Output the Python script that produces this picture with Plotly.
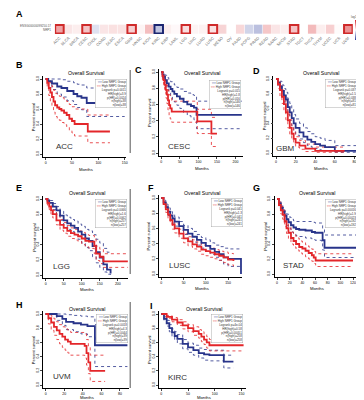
import plotly.graph_objects as go

W, H = 364, 400
BLUE = "#28348a"
RED = "#e3262a"

# ---------------- Panel A data ----------------
cancers = ["ACC","BLCA","BRCA","CESC","CHOL","COAD","DLBC","ESCA","GBM","HNSC","KICH",
           "KIRC","KIRP","LAML","LGG","LIHC","LUAD","LUSC","MESO","OV","PAAD","PCPG",
           "PRAD","READ","SARC","SKCM","STAD","TGCT","THCA","THYM","UCEC","UCS","UVM"]
log_hr = [0.42,0.12,0.08,0.28,-0.15,0.12,0.14,0.13,0.22,0.05,0.30,
          -0.30,0.08,0.03,0.16,0.05,0.06,0.14,0.20,0.0,0.18,-0.22,
          -0.32,0.26,0.12,0.08,0.28,None,0.32,0.08,0.22,0.02,0.50]
extreme_cancers = ["TGCT"]
extreme_values = [2.2]
risk_cancers = ["ACC","CESC","GBM","LGG","LUSC","STAD","UVM"]
protective_cancers = ["KIRC"]
gene_label = "ENSG00000099250.17<br>NRP1"

# ---------------- Survival data (months, survival) ----------------
ACC_low_t = [0,5,12,22,30,41,53,60,68,78,150]
ACC_low_s = [1,0.97,0.94,0.90,0.88,0.84,0.80,0.77,0.75,0.68,0.68]
ACC_low_hi = [1,1,1,1,0.99,0.97,0.95,0.93,0.92,0.88,0.88]
ACC_low_lo = [1,0.92,0.86,0.80,0.76,0.71,0.66,0.62,0.59,0.50,0.50]
ACC_high_t = [0,3,6,9,12,15,18,22,26,30,35,40,45,50,55,80,122]
ACC_high_s = [1,0.95,0.88,0.82,0.76,0.70,0.65,0.62,0.60,0.58,0.55,0.52,0.47,0.44,0.40,0.30,0.30]
ACC_high_hi = [1,1,0.98,0.94,0.90,0.85,0.81,0.79,0.77,0.75,0.73,0.70,0.66,0.63,0.60,0.52,0.52]
ACC_high_lo = [1,0.88,0.78,0.70,0.63,0.56,0.50,0.47,0.45,0.42,0.39,0.36,0.31,0.28,0.24,0.15,0.15]

CESC_low_t = [0,3,6,10,15,20,25,30,35,42,50,60,70,80,88,95,217]
CESC_low_s = [1,0.97,0.94,0.90,0.86,0.82,0.79,0.76,0.73,0.70,0.67,0.63,0.60,0.58,0.56,0.47,0.47]
CESC_low_hi = [1,1,0.99,0.96,0.93,0.90,0.88,0.86,0.84,0.81,0.79,0.76,0.74,0.72,0.71,0.64,0.64]
CESC_low_lo = [1,0.94,0.89,0.84,0.79,0.74,0.70,0.66,0.63,0.59,0.55,0.50,0.46,0.44,0.41,0.30,0.30]
CESC_high_t = [0,3,6,9,12,15,18,21,24,28,97,135,150]
CESC_high_s = [1,0.95,0.90,0.84,0.78,0.72,0.65,0.59,0.55,0.51,0.39,0.24,0.24]
CESC_high_hi = [1,1,0.97,0.92,0.88,0.83,0.77,0.72,0.68,0.64,0.54,0.44,0.44]
CESC_high_lo = [1,0.90,0.83,0.76,0.68,0.61,0.53,0.46,0.42,0.38,0.24,0.08,0.08]

GBM_low_t = [0,2,4,6,8,10,12,14,16,18,20,24,28,32,36,40,45,50,60,88]
GBM_low_s = [1,0.95,0.90,0.84,0.78,0.72,0.62,0.55,0.47,0.40,0.34,0.28,0.22,0.18,0.15,0.12,0.10,0.08,0.03,0.03]
GBM_low_hi = [1,1,0.97,0.92,0.87,0.82,0.73,0.67,0.59,0.52,0.46,0.40,0.34,0.29,0.26,0.22,0.20,0.17,0.10,0.10]
GBM_low_lo = [1,0.90,0.83,0.76,0.69,0.62,0.52,0.44,0.37,0.30,0.24,0.19,0.14,0.10,0.08,0.06,0.04,0.03,0.01,0.01]
GBM_high_t = [0,2,4,6,8,10,12,14,16,18,20,24,30,40,70]
GBM_high_s = [1,0.93,0.85,0.76,0.66,0.55,0.44,0.34,0.26,0.19,0.14,0.10,0.06,0.03,0.03]
GBM_high_hi = [1,0.99,0.93,0.85,0.76,0.66,0.55,0.45,0.36,0.28,0.22,0.17,0.12,0.08,0.08]
GBM_high_lo = [1,0.87,0.77,0.67,0.56,0.45,0.34,0.25,0.18,0.12,0.08,0.05,0.02,0.01,0.01]

LGG_low_t = [0,5,10,20,30,40,50,60,70,80,90,100,110,120,130,140,150,160,170,180]
LGG_low_s = [1,0.98,0.95,0.90,0.85,0.78,0.72,0.68,0.65,0.62,0.57,0.53,0.48,0.45,0.38,0.30,0.23,0.14,0.07,0.02]
LGG_low_hi = [1,1,0.98,0.94,0.90,0.84,0.79,0.76,0.73,0.71,0.67,0.64,0.60,0.58,0.53,0.47,0.42,0.35,0.30,0.30]
LGG_low_lo = [1,0.96,0.92,0.86,0.80,0.72,0.65,0.60,0.57,0.53,0.47,0.42,0.36,0.32,0.24,0.16,0.10,0.04,0.01,0.0]
LGG_high_t = [0,5,10,15,20,30,40,50,60,70,80,90,100,110,120,130,135,140,150,160,228]
LGG_high_s = [1,0.95,0.90,0.85,0.80,0.72,0.66,0.62,0.58,0.55,0.53,0.51,0.48,0.45,0.44,0.44,0.38,0.28,0.24,0.18,0.18]
LGG_high_hi = [1,0.98,0.94,0.90,0.85,0.78,0.73,0.69,0.65,0.62,0.60,0.58,0.56,0.53,0.52,0.52,0.47,0.38,0.34,0.28,0.28]
LGG_high_lo = [1,0.92,0.86,0.80,0.75,0.66,0.59,0.55,0.51,0.48,0.46,0.44,0.40,0.37,0.35,0.35,0.28,0.19,0.15,0.10,0.10]

LUSC_low_t = [0,5,10,15,20,25,30,40,50,60,70,80,90,100,110,120,130,140,150,178,179]
LUSC_low_s = [1,0.94,0.88,0.82,0.77,0.73,0.69,0.63,0.58,0.53,0.49,0.45,0.41,0.37,0.33,0.29,0.26,0.22,0.20,0.20,0.0]
LUSC_low_hi = [1,0.97,0.92,0.87,0.82,0.78,0.75,0.69,0.64,0.60,0.56,0.52,0.48,0.45,0.41,0.38,0.36,0.34,0.33,0.33,0.33]
LUSC_low_lo = [1,0.91,0.84,0.77,0.72,0.67,0.63,0.57,0.52,0.46,0.42,0.38,0.34,0.30,0.26,0.22,0.18,0.13,0.10,0.08,0.08]
LUSC_high_t = [0,5,10,15,20,25,30,40,50,60,70,80,90,100,110,120,130,140,150,162]
LUSC_high_s = [1,0.92,0.85,0.78,0.71,0.65,0.60,0.53,0.47,0.43,0.39,0.36,0.32,0.30,0.28,0.26,0.24,0.22,0.19,0.17]
LUSC_high_hi = [1,0.95,0.89,0.83,0.77,0.71,0.66,0.59,0.53,0.49,0.45,0.42,0.38,0.36,0.34,0.32,0.30,0.29,0.27,0.26]
LUSC_high_lo = [1,0.89,0.81,0.73,0.66,0.59,0.54,0.47,0.41,0.37,0.33,0.30,0.26,0.24,0.22,0.20,0.18,0.15,0.12,0.10]

STAD_low_t = [0,3,6,9,12,15,18,22,26,30,35,45,55,60,70,72,75,126]
STAD_low_s = [1,0.94,0.88,0.83,0.78,0.73,0.69,0.65,0.62,0.60,0.59,0.58,0.56,0.55,0.55,0.45,0.35,0.35]
STAD_low_hi = [1,0.97,0.93,0.89,0.84,0.80,0.76,0.73,0.71,0.70,0.70,0.70,0.69,0.68,0.68,0.60,0.52,0.52]
STAD_low_lo = [1,0.90,0.83,0.77,0.71,0.65,0.61,0.56,0.53,0.51,0.50,0.48,0.46,0.45,0.44,0.32,0.22,0.22]
STAD_high_t = [0,3,6,9,12,15,18,22,26,30,35,40,45,50,55,58,61,120]
STAD_high_s = [1,0.92,0.85,0.79,0.70,0.61,0.55,0.48,0.44,0.40,0.36,0.34,0.31,0.28,0.25,0.22,0.18,0.18]
STAD_high_hi = [1,0.96,0.90,0.85,0.77,0.69,0.63,0.56,0.52,0.48,0.44,0.42,0.39,0.36,0.33,0.30,0.27,0.27]
STAD_high_lo = [1,0.88,0.80,0.73,0.63,0.54,0.47,0.40,0.36,0.32,0.28,0.26,0.23,0.20,0.17,0.14,0.10,0.10]

UVM_low_t = [0,12,18,22,30,38,45,53,88]
UVM_low_s = [1,0.97,0.93,0.89,0.87,0.85,0.83,0.56,0.56]
UVM_low_hi = [1,1,1,0.99,0.98,0.97,0.96,0.85,0.85]
UVM_low_lo = [1,0.91,0.84,0.78,0.75,0.72,0.68,0.26,0.26]
UVM_high_t = [0,3,6,9,12,15,18,21,24,27,42,44,46,48,64]
UVM_high_s = [1,0.94,0.88,0.82,0.77,0.72,0.68,0.64,0.61,0.58,0.55,0.45,0.32,0.20,0.20]
UVM_high_hi = [1,1,0.97,0.93,0.89,0.85,0.82,0.79,0.77,0.74,0.72,0.64,0.53,0.42,0.42]
UVM_high_lo = [1,0.86,0.77,0.70,0.64,0.58,0.53,0.49,0.45,0.42,0.38,0.28,0.16,0.05,0.05]

KIRC_low_t = [0,5,10,15,20,25,30,40,50,60,70,80,90,100,110,117,135]
KIRC_low_s = [1,0.93,0.87,0.80,0.74,0.69,0.65,0.58,0.53,0.49,0.45,0.43,0.42,0.42,0.42,0.33,0.33]
KIRC_low_hi = [1,0.96,0.91,0.85,0.79,0.75,0.71,0.64,0.59,0.56,0.52,0.50,0.49,0.49,0.49,0.42,0.42]
KIRC_low_lo = [1,0.90,0.83,0.75,0.68,0.63,0.58,0.51,0.46,0.42,0.38,0.35,0.34,0.34,0.34,0.24,0.24]
KIRC_high_t = [0,10,20,30,40,50,60,70,75,80,85,90,154]
KIRC_high_s = [1,0.96,0.92,0.88,0.84,0.80,0.76,0.72,0.68,0.64,0.60,0.56,0.56]
KIRC_high_hi = [1,0.98,0.95,0.92,0.89,0.85,0.82,0.78,0.75,0.71,0.68,0.64,0.64]
KIRC_high_lo = [1,0.94,0.89,0.84,0.79,0.75,0.70,0.66,0.61,0.57,0.52,0.48,0.48]

# stats text
ACC_stats = ["Logrank p=0.0011","HR(high)=3.9","p(HR)=0.0024","n(high)=38","n(low)=38"]
CESC_stats = ["Logrank p=0.015","HR(high)=1.8","p(HR)=0.016","n(high)=146","n(low)=146"]
GBM_stats = ["Logrank p=0.037","HR(high)=1.5","p(HR)=0.038","n(high)=81","n(low)=81"]
LGG_stats = ["Logrank p=0.0066","HR(high)=1.6","p(HR)=0.0062","n(high)=257","n(low)=257"]
LUSC_stats = ["Logrank p=0.041","HR(high)=1.3","p(HR)=0.041","n(high)=241","n(low)=241"]
STAD_stats = ["Logrank p=0.00016","HR(high)=1.9","p(HR)=0.00023","n(high)=192","n(low)=192"]
UVM_stats = ["Logrank p=0.0018","HR(high)=4.3","p(HR)=0.0044","n(high)=39","n(low)=39"]
KIRC_stats = ["Logrank p=4e-04","HR(high)=0.58","p(HR)=0.00051","n(high)=258","n(low)=258"]

x_ticks_ACC = [0,50,100,150]
x_ticks_CESC = [0,50,100,150,200]
x_ticks_GBM = [0,20,40,60,80]
x_ticks_LGG = [0,50,100,150,200]
x_ticks_LUSC = [0,50,100,150]
x_ticks_STAD = [0,20,40,60,80,100,120]
x_ticks_UVM = [0,20,40,60,80]
x_ticks_KIRC = [0,50,100,150]
y_ticks = [0,0.2,0.4,0.6,0.8,1.0]

# ---------------- Layout geometry (pixels) ----------------
panels = [
    dict(letter="B", name="ACC", x0=35, k=0.533, R=153, py0=146, py1=71, lp=(3,57), ty=65, lg=(117,71), lab=(43,138), my=161,
         low=(ACC_low_t,ACC_low_s,ACC_low_hi,ACC_low_lo), high=(ACC_high_t,ACC_high_s,ACC_high_hi,ACC_high_lo),
         stats=ACC_stats, xt=x_ticks_ACC),
    dict(letter="C", name="CESC", x0=152, k=0.375, R=220, py0=145, py1=64, lp=(123,62), ty=65, lg=(233,72), lab=(157,138), my=160,
         low=(CESC_low_t,CESC_low_s,CESC_low_hi,CESC_low_lo), high=(CESC_high_t,CESC_high_s,CESC_high_hi,CESC_high_lo),
         stats=CESC_stats, xt=x_ticks_CESC),
    dict(letter="D", name="GBM", x0=268, k=0.99, R=92, py0=145, py1=71, lp=(243,63), ty=65, lg=(350,71), lab=(266,140), my=160,
         low=(GBM_low_t,GBM_low_s,GBM_low_hi,GBM_low_lo), high=(GBM_high_t,GBM_high_s,GBM_high_hi,GBM_high_lo),
         stats=GBM_stats, xt=x_ticks_GBM),
    dict(letter="E", name="LGG", x0=35, k=0.365, R=228, py0=267, py1=191, lp=(3,180), ty=185, lg=(117,191), lab=(40,258), my=281,
         low=(LGG_low_t,LGG_low_s,LGG_low_hi,LGG_low_lo), high=(LGG_high_t,LGG_high_s,LGG_high_hi,LGG_high_lo),
         stats=LGG_stats, xt=x_ticks_LGG),
    dict(letter="F", name="LUSC", x0=152, k=0.45, R=182, py0=266, py1=190, lp=(136,180), ty=185, lg=(235,190), lab=(158,257), my=280,
         low=(LUSC_low_t,LUSC_low_s,LUSC_low_hi,LUSC_low_lo), high=(LUSC_high_t,LUSC_high_s,LUSC_high_hi,LUSC_high_lo),
         stats=LUSC_stats, xt=x_ticks_LUSC),
    dict(letter="G", name="STAD", x0=269, k=0.64, R=127, py0=266, py1=191, lp=(243,180), ty=185, lg=(350,191), lab=(273,257), my=280,
         low=(STAD_low_t,STAD_low_s,STAD_low_hi,STAD_low_lo), high=(STAD_high_t,STAD_high_s,STAD_high_hi,STAD_high_lo),
         stats=STAD_stats, xt=x_ticks_STAD),
    dict(letter="H", name="UVM", x0=35, k=0.94, R=90, py0=377, py1=306, lp=(3,297), ty=301, lg=(118,306), lab=(40,368), my=389.5,
         low=(UVM_low_t,UVM_low_s,UVM_low_hi,UVM_low_lo), high=(UVM_high_t,UVM_high_s,UVM_high_hi,UVM_high_lo),
         stats=UVM_stats, xt=x_ticks_UVM),
    dict(letter="I", name="KIRC", x0=152, k=0.54, R=158, py0=377, py1=306, lp=(139,298), ty=301, lg=(235,306), lab=(157,369), my=389.5,
         low=(KIRC_low_t,KIRC_low_s,KIRC_low_hi,KIRC_low_lo), high=(KIRC_high_t,KIRC_high_s,KIRC_high_hi,KIRC_high_lo),
         stats=KIRC_stats, xt=x_ticks_KIRC),
]

def fx(px):
    return px / W

def fy(py):
    return 1 - py / H

fig = go.Figure()
annotations = []
shapes = []
layout = {}

# ---------------- Panel A: heatmap ----------------
fig.add_trace(go.Heatmap(
    x=cancers, y=["NRP1"], z=[log_hr], zmin=-1, zmax=1, xgap=0.6,
    colorscale=[[0, "#2a3a9a"], [0.5, "#ffffff"], [1, "#d9262b"]],
    colorbar=dict(x=fx(348), xanchor="left", y=fy(22), yanchor="middle",
                  lenmode="pixels", len=20, thicknessmode="pixels", thickness=4,
                  xpad=0, ypad=0, outlinewidth=0, tickfont=dict(size=3, color="#555"),
                  tickvals=[-1, 0, 1], ticklen=1),
    xaxis="x", yaxis="y", hoverinfo="skip"))
fig.add_trace(go.Heatmap(
    x=extreme_cancers, y=["NRP1"], z=[extreme_values], showscale=False,
    colorscale=[[0, "#5e5858"], [1, "#5e5858"]], xaxis="x", yaxis="y", hoverinfo="skip"))
fig.add_trace(go.Scatter(
    x=risk_cancers, y=["NRP1"] * len(risk_cancers), mode="markers",
    marker=dict(symbol="square-open", size=8.5, line=dict(width=2, color="#cf2a2a"), color="#cf2a2a"),
    xaxis="x", yaxis="y", showlegend=False, hoverinfo="skip"))
fig.add_trace(go.Scatter(
    x=protective_cancers, y=["NRP1"] * len(protective_cancers), mode="markers",
    marker=dict(symbol="square-open", size=8.5, line=dict(width=2, color="#1b2570"), color="#1b2570"),
    xaxis="x", yaxis="y", showlegend=False, hoverinfo="skip"))

layout["xaxis"] = dict(domain=[fx(44.4), fx(345.6)], anchor="y", type="category",
                       categoryorder="array", categoryarray=cancers,
                       range=[-0.5, len(cancers) - 0.5], tickangle=-45,
                       tickfont=dict(size=4, color="#666"), ticks="", showline=False,
                       showgrid=False, zeroline=False)
layout["yaxis"] = dict(domain=[fy(26), fy(15.5)], anchor="x", showticklabels=False,
                       type="category", showgrid=False, zeroline=False)
annotations.append(dict(text="<b>A</b>", x=fx(3), y=fy(6), xref="paper", yref="paper",
                        xanchor="left", yanchor="middle", showarrow=False,
                        font=dict(size=9, color="black", family="Arial")))
annotations.append(dict(text=gene_label, x=fx(42), y=fy(20), xref="paper", yref="paper",
                        xanchor="right", yanchor="middle", align="right", showarrow=False,
                        font=dict(size=3, color="#555", family="Arial")))
annotations.append(dict(text="log10(HR)", x=fx(351), y=fy(9), xref="paper", yref="paper",
                        xanchor="center", yanchor="middle", showarrow=False,
                        font=dict(size=3, color="#555", family="Arial")))

# ---------------- Survival panels ----------------
for i, p in enumerate(panels, start=2):
    xr, yr = f"x{i}", f"y{i}"
    x0, k, R, py0, py1 = p["x0"], p["k"], p["R"], p["py0"], p["py1"]
    hpx = py0 - py1
    for grp, col in (("low", BLUE), ("high", RED)):
        t, s, hi, lo = p[grp]
        for band in (hi, lo):
            fig.add_trace(go.Scatter(x=t, y=band, mode="lines", line_shape="hv",
                                     line=dict(color=col, width=0.8, dash="dot"),
                                     xaxis=xr, yaxis=yr, showlegend=False, hoverinfo="skip"))
    for grp, col in (("low", BLUE), ("high", RED)):
        t, s, hi, lo = p[grp]
        fig.add_trace(go.Scatter(x=t, y=s, mode="lines", line_shape="hv",
                                 line=dict(color=col, width=1.8),
                                 xaxis=xr, yaxis=yr, showlegend=False, hoverinfo="skip"))
    pad = 0.03 * R
    layout[f"xaxis{i}"] = dict(domain=[fx(x0 - k * pad), fx(x0 + k * R)], range=[-pad, R],
                               anchor=yr, tickvals=p["xt"], ticks="outside", ticklen=2,
                               tickwidth=0.6, showline=True, linecolor="black", linewidth=0.6,
                               tickfont=dict(size=3.5, color="black"), showgrid=False, zeroline=False)
    layout[f"yaxis{i}"] = dict(domain=[fy(py0 + 0.04 * hpx), fy(py1 - 0.04 * hpx)], range=[-0.04, 1.04],
                               anchor=xr, tickvals=y_ticks, tickformat=".1f", tickangle=-90,
                               ticks="outside", ticklen=2, tickwidth=0.6, showline=True,
                               linecolor="black", linewidth=0.6,
                               tickfont=dict(size=3.5, color="black"), showgrid=False, zeroline=False)
    annotations.append(dict(text=f"<b>{p['letter']}</b>", x=fx(p["lp"][0]), y=fy(p["lp"][1]),
                            xref="paper", yref="paper", xanchor="left", yanchor="middle",
                            showarrow=False, font=dict(size=9, color="black", family="Arial")))
    annotations.append(dict(text="Overall Survival", x=fx(x0 + k * R / 2), y=fy(p["ty"]),
                            xref="paper", yref="paper", xanchor="center", yanchor="middle",
                            showarrow=False, font=dict(size=5.2, color="black", family="Arial")))
    annotations.append(dict(text="Percent survival", x=fx(x0 - 12), y=fy((py0 + py1) / 2),
                            xref="paper", yref="paper", textangle=-90, xanchor="center",
                            yanchor="middle", showarrow=False,
                            font=dict(size=4, color="black", family="Arial")))
    annotations.append(dict(text="Months", x=fx(x0 + k * R / 2), y=fy(p["my"]),
                            xref="paper", yref="paper", xanchor="center", yanchor="middle",
                            showarrow=False, borderpad=0,
                            font=dict(size=4.2, color="black", family="Arial")))
    annotations.append(dict(text=p["name"], x=fx(p["lab"][0]), y=fy(p["lab"][1]),
                            xref="paper", yref="paper", xanchor="left", yanchor="middle",
                            showarrow=False, font=dict(size=8, color="#333", family="Arial")))
    txt = (f"<span style='color:{BLUE}'>━━</span> Low NRP1 Group<br>"
           f"<span style='color:{RED}'>━━</span> High NRP1 Group<br>" + "<br>".join(p["stats"]))
    annotations.append(dict(text=txt, x=fx(p["lg"][0]), y=fy(p["lg"][1]), xref="paper", yref="paper",
                            xanchor="right", yanchor="top", align="right", showarrow=False,
                            bgcolor="white", bordercolor="#999", borderwidth=0.4, borderpad=0.5,
                            font=dict(size=3, color="#333", family="Arial")))

for (ya, yb) in [(62, 145), (181, 266), (294, 380)]:
    shapes.append(dict(type="line", xref="paper", yref="paper", x0=fx(120.5), x1=fx(120.5),
                       y0=fy(ya), y1=fy(yb), line=dict(color="#555", width=1)))

fig.update_layout(width=W, height=H, margin=dict(l=0, r=0, t=0, b=0),
                  paper_bgcolor="white", plot_bgcolor="white", showlegend=False,
                  font=dict(family="Arial"), annotations=annotations, shapes=shapes, **layout)
fig.write_html("out.html")
